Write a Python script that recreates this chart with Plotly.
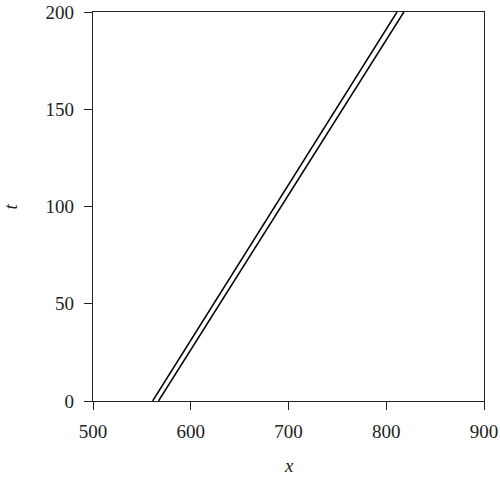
import plotly.graph_objects as go

# Data
t_vals = [0, 200]
x_line1 = [561, 811]
x_line2 = [567, 818]

x_ticks = [500, 600, 700, 800, 900]
t_ticks = [0, 50, 100, 150, 200]

fig = go.Figure()
for xs in (x_line1, x_line2):
    fig.add_trace(go.Scatter(x=xs, y=t_vals, mode="lines",
                             line=dict(color="black", width=1.5),
                             showlegend=False, hoverinfo="skip"))

font = dict(family="Liberation Serif, DejaVu Serif, serif", size=19, color="#222")

axis_common = dict(showgrid=False, zeroline=False, automargin=False,
                   showline=True, linecolor="#222", linewidth=1.3, mirror=True,
                   ticks="outside", ticklen=8, tickcolor="#222", tickwidth=1.3)

fig.update_layout(
    width=500, height=480,
    margin=dict(l=93, r=16, t=12, b=79),
    paper_bgcolor="white", plot_bgcolor="white",
    font=font,
    xaxis=dict(range=[500, 900], tickvals=x_ticks, ticklabelstandoff=5, **axis_common),
    yaxis=dict(range=[0, 200], tickvals=t_ticks, ticklabelstandoff=6, **axis_common),
    annotations=[
        dict(text="<i>x</i>", x=0.5, y=-0.165, xref="paper", yref="paper",
             xanchor="center", yanchor="middle", showarrow=False, font=font),
        dict(text="<i>t</i>", x=-0.21, y=0.5, xref="paper", yref="paper",
             xanchor="center", yanchor="middle", showarrow=False, font=font, textangle=-90),
    ],
)
fig.write_html("out.html", config={"displayModeBar": False},
               post_script="document.body.style.margin='0';document.body.style.padding='0';")
